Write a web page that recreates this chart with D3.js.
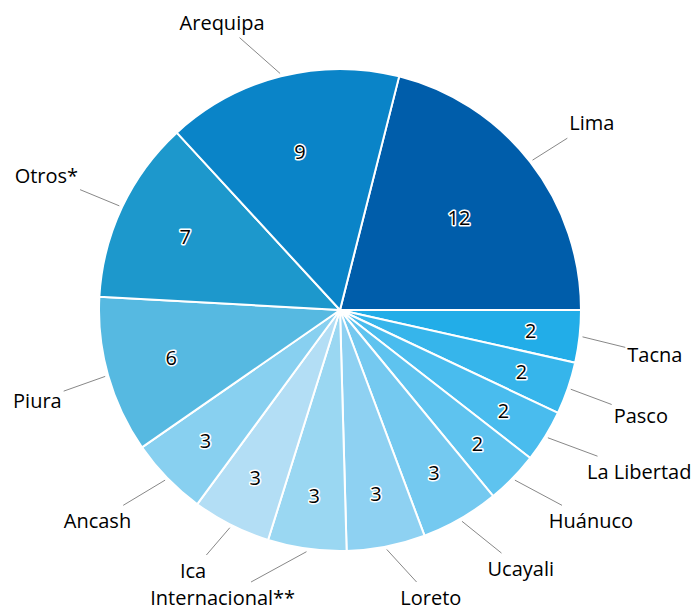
<!DOCTYPE html>
<html>
<head>
<meta charset="utf-8">
<script src="https://cdn.jsdelivr.net/npm/d3@7"></script>
<style>
  body { margin: 0; background: #fff; }
  text { font-family: "Open Sans", sans-serif; }
</style>
</head>
<body>
<div id="chart-container"></div>
<script>
// data
const categories = ['Lima', 'Tacna', 'Pasco', 'La Libertad', 'Huánuco', 'Ucayali', 'Loreto',
  'Internacional**', 'Ica', 'Ancash', 'Piura', 'Otros*', 'Arequipa']
const values = [12, 2, 2, 2, 2, 3, 3, 3, 3, 3, 6, 7, 9]
const colors = ['#005daa', '#22ade8', '#36b5eb', '#49bcee', '#5ec3ef', '#74c9f0', '#8ed1f2',
  '#9ad7f2', '#b3def5', '#88d0f0', '#56b9e1', '#1d98cc', '#0a84c8']

// constants
const width = 700
const height = 612
const cx = 340
const cy = 310
const radius = 241

const data = categories.map((c, i) => ({ name: c, value: values[i], color: colors[i] }))
const total = d3.sum(values)
// first slice ends at 3 o'clock
const start = Math.PI / 2 - 2 * Math.PI * values[0] / total

const svg = d3.select('#chart-container')
  .append('svg')
  .attr('width', width)
  .attr('height', height)

const g = svg.append('g')
  .attr('transform', `translate(${cx}, ${cy})`)

const pie = d3.pie()
  .sort(null)
  .value(d => d.value)
  .startAngle(start)
  .endAngle(start + 2 * Math.PI)

const arcs = pie(data)

const arc = d3.arc()
  .innerRadius(0)
  .outerRadius(radius)

g.selectAll('path.slice')
  .data(arcs).enter()
  .append('path')
  .attr('class', 'slice')
  .attr('d', arc)
  .attr('fill', d => d.data.color)
  .attr('stroke', '#fff')
  .attr('stroke-width', 2)
  .attr('stroke-linejoin', 'round')

const mid = d => (d.startAngle + d.endAngle) / 2
const polar = (r, a) => [r * Math.sin(a), -r * Math.cos(a)]

// value labels inside the slices
const valueR = d => radius * 0.83 - 0.65 * (d.endAngle - d.startAngle) * 180 / Math.PI

g.selectAll('text.value')
  .data(arcs).enter()
  .append('text')
  .attr('class', 'value')
  .attr('x', d => polar(valueR(d), mid(d))[0])
  .attr('y', d => polar(valueR(d), mid(d))[1])
  .attr('dy', '0.36em')
  .attr('text-anchor', 'middle')
  .attr('font-size', '20px')
  .attr('fill', '#000')
  .attr('stroke', '#fff')
  .attr('stroke-width', 3)
  .attr('stroke-linejoin', 'round')
  .attr('paint-order', 'stroke')
  .text(d => d.value)

// outer labels
const labelG = g.append('g')
const lineG = g.insert('g', 'text.value')
const maxBase = height - cy - 7
const placed = []

arcs.forEach(d => {
  const a = mid(d)
  const p2 = polar(radius + 42, a)
  const right = Math.sin(a) > 0
  const upper = Math.cos(a) > 0
  let y = upper ? p2[1] - 6 : Math.min(p2[1] + 21, maxBase)
  const t = labelG.append('text')
    .attr('x', p2[0] + (right ? 6 : -6))
    .attr('y', y)
    .attr('text-anchor', right ? 'start' : 'end')
    .attr('font-size', '20px')
    .attr('fill', '#000')
    .text(d.data.name)

  // nudge away from labels already placed
  let b = t.node().getBBox()
  placed.forEach(o => {
    const ox = Math.min(b.x + b.width, o.x + o.width) - Math.max(b.x, o.x)
    const oy = Math.min(b.y + b.height, o.y + o.height) - Math.max(b.y, o.y)
    if (ox > 0 && oy > 0) {
      y += upper ? oy : -oy
      t.attr('y', y)
      b = t.node().getBBox()
    }
  })
  placed.push(b)

  // leader line from the slice edge toward the label, stopped at its box
  const pad = 2
  const x0 = b.x - pad
  const x1 = b.x + b.width + pad
  const y0 = b.y - pad
  const y1 = b.y + b.height + pad
  const p1 = polar(radius + 3, a)
  const c = [b.x + b.width / 2, b.y + b.height / 2]
  const dx = c[0] - p1[0]
  const dy = c[1] - p1[1]
  const tx = dx !== 0 ? Math.min((x0 - p1[0]) / dx, (x1 - p1[0]) / dx) : -Infinity
  const ty = dy !== 0 ? Math.min((y0 - p1[1]) / dy, (y1 - p1[1]) / dy) : -Infinity
  const te = Math.max(0, Math.min(1, Math.max(tx, ty)))

  lineG.append('line')
    .attr('x1', p1[0])
    .attr('y1', p1[1])
    .attr('x2', p1[0] + te * dx)
    .attr('y2', p1[1] + te * dy)
    .attr('stroke', '#888')
    .attr('stroke-width', 1)
})
</script>
</body>
</html>
